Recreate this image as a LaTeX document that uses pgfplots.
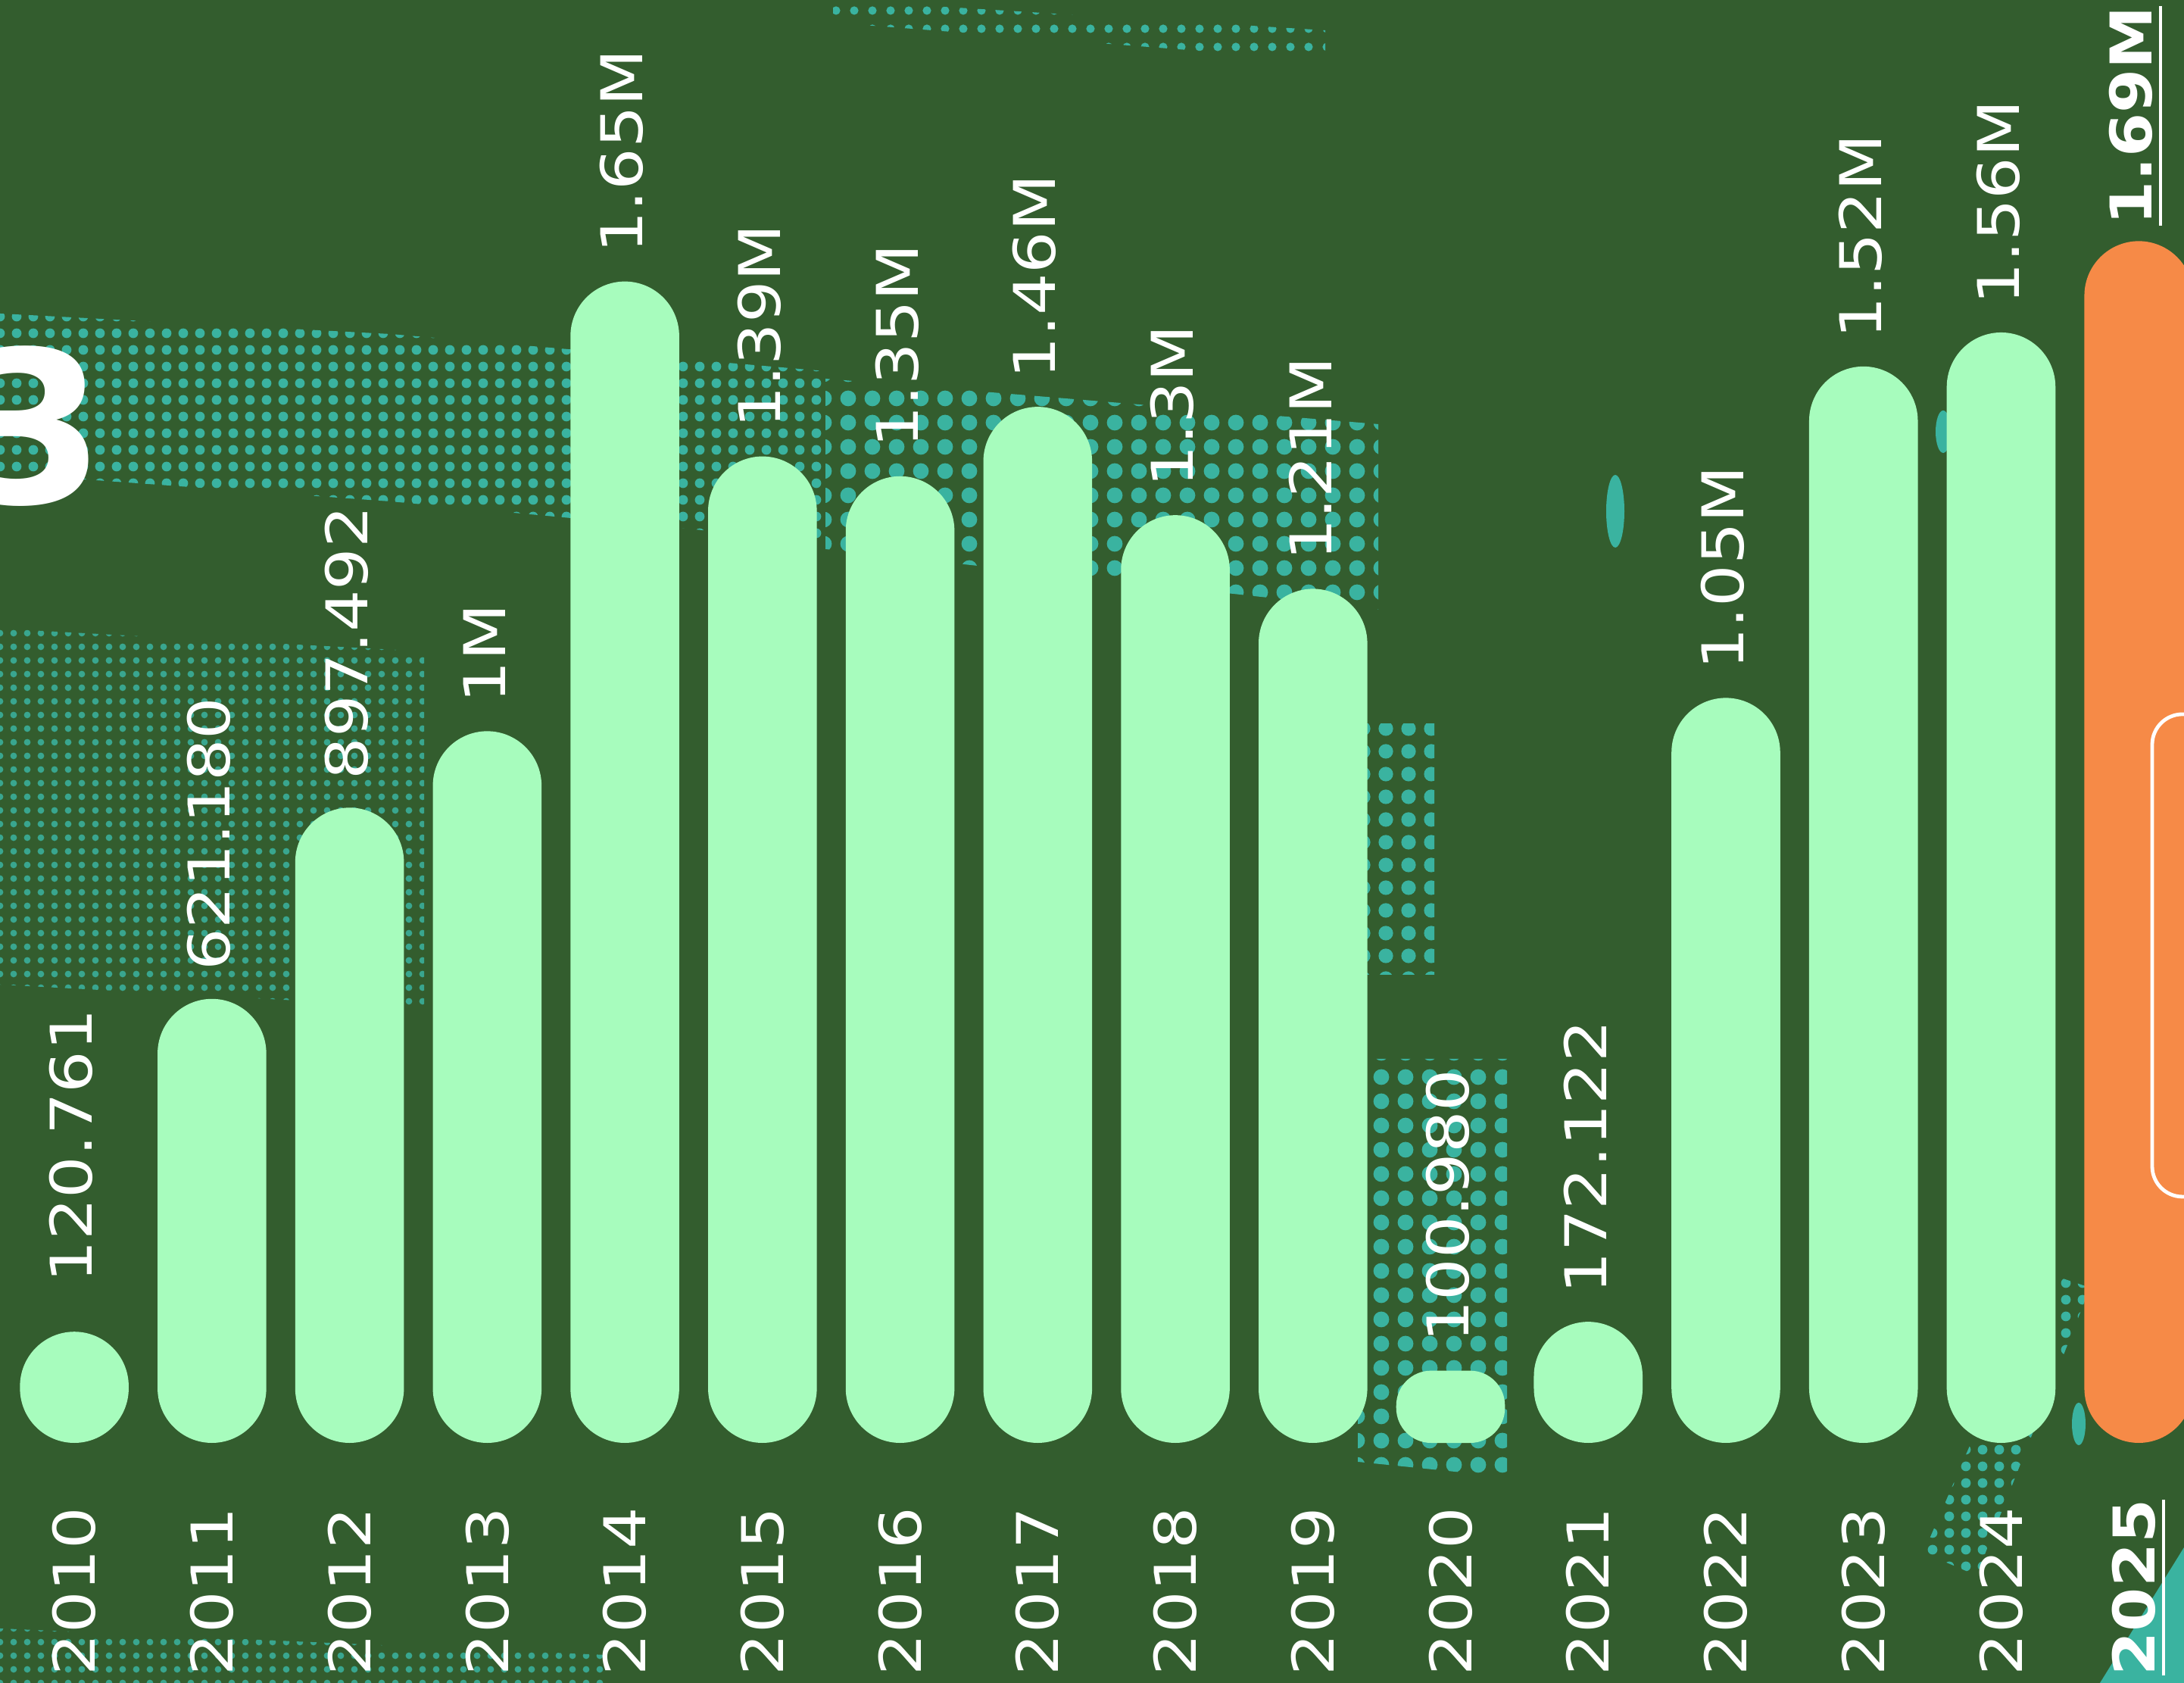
\documentclass[border=0pt]{standalone}
\usepackage{pgfplots}
\pgfplotsset{compat=1.18}
\usepackage{fontspec}
\usetikzlibrary{patterns.meta}
\setmainfont{DejaVu Sans}
\newfontfamily\lab{DejaVu Sans}[FakeStretch=1.15]
\newfontfamily\labb{DejaVu Sans}[FakeStretch=1.1]
\newsavebox\ulbox
\DeclareRobustCommand\ul[1]{\sbox\ulbox{#1}\rlap{\rule[-3.4pt]{\wd\ulbox}{1.1pt}}\usebox\ulbox}
\definecolor{bg}{HTML}{335D2E}
\definecolor{barg}{HTML}{A7FCBD}
\definecolor{baro}{HTML}{F68A47}
\definecolor{tealc}{HTML}{3AB3A0}
\begin{document}
\begin{tikzpicture}
\useasboundingbox (0,0) rectangle (721pt,555.5pt);
\clip (0,0) rectangle (721pt,555.5pt);
\fill[bg] (0,0) rectangle (721pt,555.5pt);
\begin{scope}[x=0.25pt,y=-0.25pt,shift={(0,555.5pt)}]
  % decorative halftone texture of the background photo
  \fill[pattern={Dots[radius=1.6pt,distance=5.5pt]},pattern color=tealc]
     (0,414) -- (515,441) -- (1090,490) -- (1090,715) -- (515,662) -- (0,625) -- cycle;
  \fill[pattern={Dots[radius=2.6pt,distance=8pt]},pattern color=tealc]
     (1090,500) -- (1820,560) -- (1820,805) -- (1090,725) -- cycle;
  \fill[pattern={Dots[radius=1.1pt,distance=4.5pt]},pattern color=tealc!85!bg]
     (0,830) -- (560,860) -- (560,1330) -- (0,1300) -- cycle;
  \fill[pattern={Dots[radius=2.4pt,distance=7.5pt]},pattern color=tealc]
     (1793,956) rectangle (1894,1287);
  \fill[pattern={Dots[radius=2.6pt,distance=8pt]},pattern color=tealc]
     (1793,1398) -- (1990,1398) -- (1990,1950) -- (1793,1930) -- cycle;
  \fill[pattern={Dots[radius=1.1pt,distance=4.5pt]},pattern color=tealc!85!bg]
     (0,2150) -- (800,2185) -- (800,2222) -- (0,2222) -- cycle;
  \fill[pattern={Dots[radius=1.6pt,distance=5.5pt]},pattern color=tealc]
     (2540,2050) -- (2700,1680) -- (2760,1700) -- (2610,2080) -- cycle;
  \fill[tealc] (2773,2222) -- (2884,2043) -- (2884,2222) -- cycle;
  \fill[tealc] (2133,675) ellipse [x radius=12, y radius=48];
  \fill[tealc] (2566,570) ellipse [x radius=10, y radius=28];
  \fill[tealc] (2745,1880) ellipse [x radius=9, y radius=28];
  \fill[pattern={Dots[radius=1.4pt,distance=6pt]},pattern color=tealc]
     (1100,0) -- (1750,40) -- (1750,80) -- (1100,30) -- cycle;
  \node[anchor=base east,inner sep=0pt,text=white,font=\fontsize{70pt}{70pt}\selectfont\bfseries] at (140,665) {3};
\end{scope}
\begin{axis}[
  at={(0,0)}, anchor=south west,
  scale only axis, width=721pt, height=555.5pt,
  xmin=2009.460, xmax=2025.329,
  ymin=-0.339, ymax=2.0375,
  axis line style={draw=none},
  tick style={draw=none},
  major tick length=0pt,
  ytick=\empty,
  xtick={2010,2011,...,2025},
  xticklabels={2010,2011,2012,2013,2014,2015,2016,2017,2018,2019,2020,2021,2022,2023,2024,{\labb\bfseries\ul{2025}}},
  xticklabel style={rotate=90, anchor=west, inner xsep=2.2pt, inner ysep=0pt, font=\lab\fontsize{19pt}{19pt}\selectfont, text=white},
  ybar, bar width=0.79, /pgf/bar shift=0pt,
  nodes near coords,
  point meta=explicit symbolic,
  every node near coord/.append style={xshift=-1pt, rotate=90, anchor=west, inner xsep=9pt, inner ysep=0pt, font=\lab\fontsize{19pt}{19pt}\selectfont, text=white},
]
\addplot[draw=none, fill=barg, rounded corners=18pt,
  every node near coord/.append style={inner xsep=16pt}] coordinates {
 (2010,0.157) [120.761]
};
\addplot[draw=none, fill=barg, rounded corners=18pt] coordinates {
 (2011,0.627) [621.180]
 (2012,0.897) [897.492]
 (2013,1.005) [1M]
 (2014,1.640) [1.65M]
 (2015,1.393) [1.39M]
 (2016,1.365) [1.35M]
 (2017,1.463) [1.46M]
 (2018,1.310) [1.3M]
 (2019,1.206) [1.21M]
 (2021,0.171) [172.122]
 (2022,1.052) [1.05M]
 (2023,1.520) [1.52M]
 (2024,1.568) [1.56M]
};
\addplot[draw=none, fill=barg, rounded corners=11.5pt] coordinates {
 (2020,0.102) [100.980]
};
\addplot[draw=none, fill=baro, rounded corners=18pt,
  every node near coord/.append style={inner xsep=5pt}] coordinates {
 (2025,1.697) [\labb\bfseries\ul{1.69M}]
};
\end{axis}
\begin{scope}[x=0.25pt,y=-0.25pt,shift={(0,555.5pt)}]
  \draw[white, line width=1.2pt, rounded corners=10pt] (2950,943) -- (2842,943) -- (2842,1580) -- (2950,1580);
\end{scope}
\end{tikzpicture}
\end{document}
